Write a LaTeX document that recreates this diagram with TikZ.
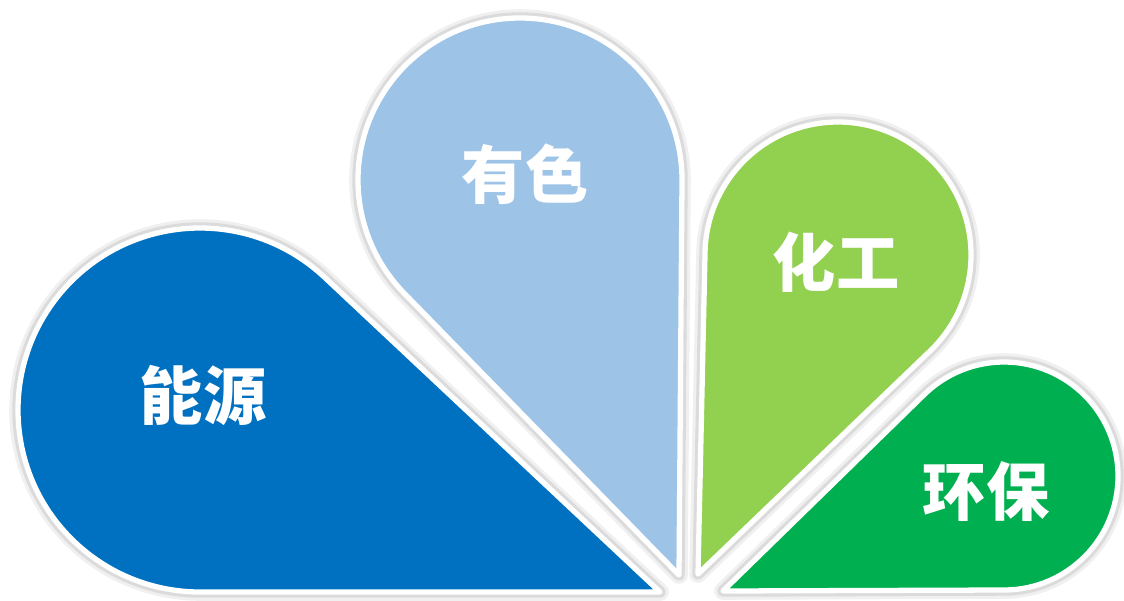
\documentclass[tikz,border=0pt]{standalone}
\usepackage{fontspec}
\newfontfamily\cjk{Noto Sans CJK SC}
\definecolor{darkblue}{HTML}{0070C0}
\definecolor{lightblue}{HTML}{9DC3E6}
\definecolor{lightgreen}{HTML}{92D050}
\definecolor{darkgreen}{HTML}{00B050}
\begin{document}
\begin{tikzpicture}[x=0.02cm,y=0.02cm,
    label/.style={text=white,font=\cjk\bfseries\fontsize{36}{40}\selectfont}]
    \useasboundingbox (0,0) rectangle (1124,600);
    % petals: apex / circle centre / radius / colour
    \foreach \ax/\ay/\cx/\cy/\r/\col in {660/8/200/190/182/darkblue,
        679/25/520/420/162/lightblue,
        698/26/838/345/133/lightgreen,
        723/9/1004/124/114/darkgreen}{
      \pgfmathsetmacro\dd{veclen(\ax-\cx,\ay-\cy)}
      \pgfmathsetmacro\gam{atan2(\ay-\cy,\ax-\cx)}
      \pgfmathsetmacro\bet{acos(\r/\dd)}
      \pgfmathsetmacro\sa{\gam+\bet}
      \pgfmathsetmacro\ea{\gam-\bet+360}
      \coordinate (apex) at (\ax,\ay);
      \coordinate (c) at (\cx,\cy);
      \draw[gray!12, line width=10pt, line join=round, xshift=1.5, yshift=-1.5]
        (apex) -- ([shift={(\sa:\r)}]c) arc[start angle=\sa, end angle=\ea, radius=\r] -- cycle;
      \draw[gray!28, line width=6.5pt, line join=round, xshift=1, yshift=-1]
        (apex) -- ([shift={(\sa:\r)}]c) arc[start angle=\sa, end angle=\ea, radius=\r] -- cycle;
      \draw[white, fill=\col, line width=3pt, line join=round]
        (apex) -- ([shift={(\sa:\r)}]c) arc[start angle=\sa, end angle=\ea, radius=\r] -- cycle;
    }
    \node[label] (nengyuan) at (203,205) {能源};
    \node[label] (youse)    at (525,426) {有色};
    \node[label] (huagong)  at (836,338) {化工};
    \node[label] (huanbao)  at (986,108) {环保};
\end{tikzpicture}
\end{document}
